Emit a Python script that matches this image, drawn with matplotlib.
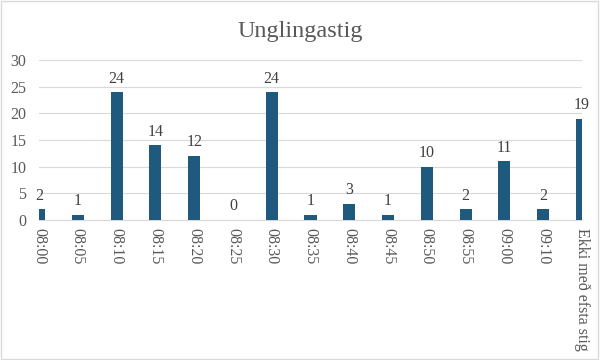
import matplotlib.pyplot as plt
from matplotlib.patches import Rectangle

# Données
categories = ["08:00", "08:05", "08:10", "08:15", "08:20", "08:25", "08:30",
              "08:35", "08:40", "08:45", "08:50", "08:55", "09:00", "09:10",
              "Ekki með efsta stig"]
values = [2, 1, 24, 14, 12, 0, 24, 1, 3, 1, 10, 2, 11, 2, 19]
yticks = [0, 5, 10, 15, 20, 25, 30]

plt.rcParams['font.family'] = ['Liberation Serif', 'DejaVu Serif']

fig = plt.figure(figsize=(6, 3.6), dpi=100)
ax = fig.add_axes([0.065, 0.389, 0.905, 0.444])

x = list(range(len(categories)))
bars = ax.bar(x, values, width=0.31, color="#1f5a7e", zorder=3)

# Étiquettes de valeurs
for xi, v in zip(x, values):
    ax.annotate(str(v), (xi, v), xytext=(0, 4), textcoords="offset points",
                ha="center", va="bottom", fontsize=11.5, color="#404040",
                annotation_clip=False)

ax.set_xlim(0, len(categories) - 1)
ax.set_ylim(0, 30)
ax.set_yticks(yticks)
ax.set_xticks(x)
ax.set_xticklabels(categories, rotation=270, fontsize=11.5, color="#595959",
                   va="top", ha="center")
ax.tick_params(axis="y", labelsize=11.5, colors="#595959", length=0, pad=9)
ax.tick_params(axis="x", length=0, pad=6)

ax.grid(axis="y", color="#d9d9d9", linewidth=0.8, zorder=0)
for s in ["top", "right", "left"]:
    ax.spines[s].set_visible(False)
ax.spines["bottom"].set_color("#d9d9d9")

fig.suptitle("Unglingastig", y=0.942, fontsize=17.5, color="#595959")

# Bordure du graphique
fig.patches.append(Rectangle((0.002, 0.003), 0.995, 0.994, transform=fig.transFigure,
                             fill=False, edgecolor="#d9d9d9", linewidth=1))

plt.savefig("out.png", dpi=100)
plt.close()
